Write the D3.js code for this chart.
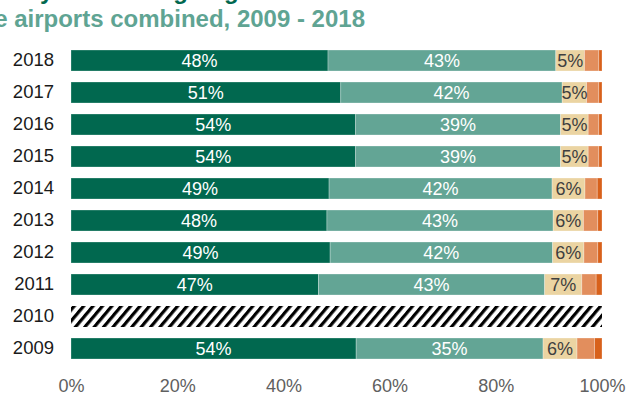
<!DOCTYPE html>
<html>
<head>
<meta charset="utf-8">
<script src="https://cdn.jsdelivr.net/npm/d3@7"></script>
<style>
  html, body { margin: 0; padding: 0; background: #fff; }
  svg { display: block; font-family: "Liberation Sans", Arial, sans-serif; }
</style>
</head>
<body>
<svg id="chart" width="627" height="394"></svg>
<script>
// Rows, top to bottom
const years = ["2018", "2017", "2016", "2015", "2014", "2013", "2012", "2011", "2010", "2009"];

// Share of passengers (%) per segment; null = no data for that year
const share1 = [48.4, 50.8, 53.6, 53.6, 48.6, 48.2, 48.8, 46.6, null, 53.7];
const share2 = [42.9, 41.7, 38.6, 38.6, 42.0, 42.6, 41.9, 42.6, null, 35.2];
const share3 = [5.4, 4.6, 5.2, 5.2, 6.2, 5.7, 5.9, 7.0, null, 6.4];
const share4 = [2.7, 2.3, 2.0, 2.0, 2.3, 2.7, 2.6, 2.7, null, 3.3];
const share5 = [0.6, 0.6, 0.6, 0.6, 0.9, 0.8, 0.8, 1.1, null, 1.4];

const seriesData = [share1, share2, share3, share4, share5];
const seriesColors = ["#01684f", "#63a595", "#ebd4a2", "#e28e5d", "#d8611b"];
const labelColors = ["#ffffff", "#ffffff", "#3f3f3f", null, null];

const xTicks = [0, 0.2, 0.4, 0.6, 0.8, 1];

const titleLine1 = "Surface access mode share by travellers going to";
const titleLine2 = "all three airports combined, 2009 - 2018";

const svg = d3.select("#chart");

const x = d3.scaleLinear().domain([0, 1]).range([71, 602]);
const y = d3.scaleBand().domain(years).range([44.5, 364.5])
  .paddingInner(0.344).paddingOuter(0.172);

// Hatch pattern for the year without data
const defs = svg.append("defs");
const pat = defs.append("pattern")
  .attr("id", "hatch")
  .attr("patternUnits", "userSpaceOnUse")
  .attr("width", 7.2).attr("height", 7.2)
  .attr("patternTransform", "rotate(40)");
pat.append("rect").attr("width", 7.2).attr("height", 7.2).attr("fill", "#fff");
pat.append("rect").attr("x", 0).attr("y", 0).attr("width", 3.2).attr("height", 7.2).attr("fill", "#000");

// Title
svg.append("text")
  .attr("x", 268).attr("y", -1)
  .attr("text-anchor", "end")
  .attr("font-size", 24).attr("font-weight", "bold")
  .attr("fill", "#01684f")
  .text(titleLine1);
svg.append("text")
  .attr("x", 365).attr("y", 27)
  .attr("text-anchor", "end")
  .attr("font-size", 24).attr("font-weight", "bold")
  .attr("fill", "#5fa493")
  .text(titleLine2);

// Stacked rows
const rows = years.map((yr, i) => {
  let acc = 0;
  const segs = [];
  if (share1[i] === null) return { year: yr, segs, empty: true };
  seriesData.forEach((arr, s) => {
    const v = arr[i];
    segs.push({ s, v, x0: acc, x1: acc + v });
    acc += v;
  });
  return { year: yr, segs, empty: false };
});

const g = svg.append("g");

rows.forEach(row => {
  const gy = y(row.year);
  if (row.empty) {
    g.append("rect")
      .attr("x", x(0)).attr("y", gy)
      .attr("width", x(1) - x(0)).attr("height", y.bandwidth())
      .attr("fill", "url(#hatch)");
    return;
  }
  row.segs.forEach(d => {
    g.append("rect")
      .attr("x", x(d.x0 / 100)).attr("y", gy)
      .attr("width", x(d.x1 / 100) - x(d.x0 / 100))
      .attr("height", y.bandwidth())
      .attr("fill", seriesColors[d.s])
      .attr("stroke", "rgba(255,255,255,0.35)")
      .attr("stroke-width", 0.8);
  });
  row.segs.forEach(d => {
    if (!labelColors[d.s]) return;
    g.append("text")
      .attr("x", (x(d.x0 / 100) + x(d.x1 / 100)) / 2)
      .attr("y", gy + y.bandwidth() / 2)
      .attr("dy", "0.36em")
      .attr("text-anchor", "middle")
      .attr("font-size", 18)
      .attr("fill", labelColors[d.s])
      .text(d3.format(".0%")(d.v / 100));
  });
});

// Year labels
const yAxis = svg.append("g")
  .attr("transform", "translate(54,0)")
  .call(d3.axisLeft(y).tickSize(0).tickPadding(0));
yAxis.select(".domain").remove();
yAxis.selectAll("text")
  .attr("font-size", 18.5)
  .attr("font-family", "Liberation Sans, Arial, sans-serif")
  .attr("fill", "#1a1a1a");

// Percentage axis
const xAxis = svg.append("g")
  .attr("transform", "translate(0,374)")
  .call(d3.axisBottom(x).tickValues(xTicks).tickFormat(d3.format(".0%")).tickSize(0).tickPadding(0));
xAxis.select(".domain").remove();
xAxis.selectAll("text")
  .attr("font-size", 18)
  .attr("font-family", "Liberation Sans, Arial, sans-serif")
  .attr("fill", "#606060")
  .attr("dy", "1.0em");
</script>
</body>
</html>
